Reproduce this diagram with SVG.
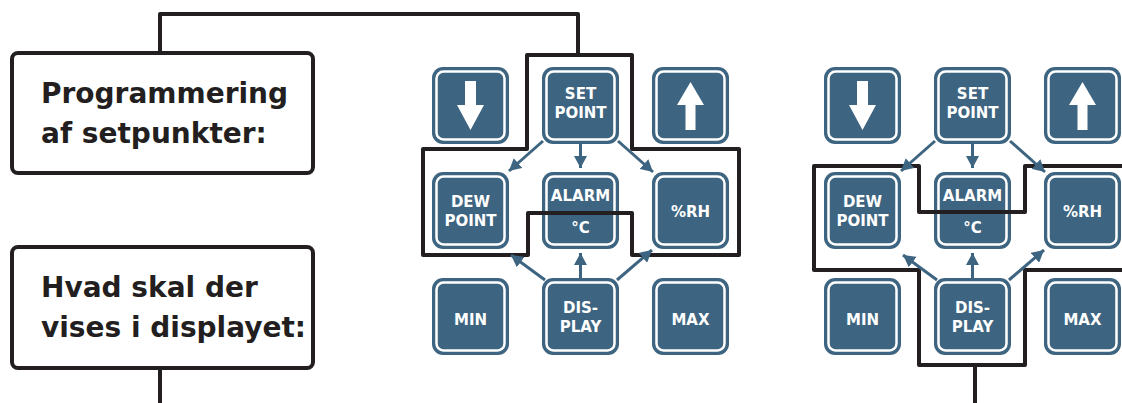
<svg xmlns="http://www.w3.org/2000/svg" xmlns:xlink="http://www.w3.org/1999/xlink" width="1122" height="403" viewBox="0 0 1122 403">
<style>
.box{fill:#fff;stroke:#231f20;stroke-width:4}
.lbl{font-family:"DejaVu Sans",Verdana,sans-serif;font-weight:bold;font-size:28px;fill:#231f20}
.bt{font-family:"DejaVu Sans",Verdana,sans-serif;font-weight:bold;font-size:15px;fill:#fff;text-anchor:middle}
.blk{fill:none;stroke:#231f20;stroke-width:4;stroke-linejoin:round}
.arr{stroke:#3d6480;stroke-width:3;fill:none;marker-end:url(#ah)}
.ic{fill:#fff}
</style>
<defs>
<g id="btn">
<rect x="0" y="0" width="77" height="77" rx="11" fill="#3d6480"/>
<rect x="4.5" y="4.5" width="68" height="68" rx="7" fill="#3d6480" stroke="#fff" stroke-width="2.5"/>
</g>
<marker id="ah" markerUnits="userSpaceOnUse" markerWidth="13" markerHeight="13" refX="12" refY="6.5" orient="auto">
<path d="M0,0 L12,6.5 L0,13 z" fill="#3d6480"/>
</marker>
</defs>
<rect width="1122" height="403" fill="#fff"/>

<g id="connectors">
<path class="blk" d="M160,53 V14 H578 V55"/>
<path class="blk" d="M160,368 V403"/>
<path class="blk" d="M975,365 V403"/>
</g>

<g id="box-programmering">
<rect class="box" x="12" y="53" width="301" height="120" rx="6"/>
<text class="lbl" x="41" y="103">Programmering</text>
<text class="lbl" x="41" y="143">af setpunkter:</text>
</g>
<g id="box-display">
<rect class="box" x="12" y="247" width="301" height="121" rx="6"/>
<text class="lbl" x="41" y="297">Hvad skal der</text>
<text class="lbl" x="41" y="337">vises i displayet:</text>
</g>

<g id="keypad1">
<g id="k1-down"><use xlink:href="#btn" x="432" y="67"/><polygon class="ic" points="465,81 476,81 476,105 484,105 470.5,130 457,105 465,105"/></g>
<g id="k1-setpoint"><use xlink:href="#btn" x="542" y="67"/><text class="bt" x="580.5" y="99">SET</text><text class="bt" x="580.5" y="118">POINT</text></g>
<g id="k1-up"><use xlink:href="#btn" x="652" y="67"/><polygon class="ic" points="685.5,130 695.5,130 695.5,105 704,105 690.5,82 677,105 685.5,105"/></g>
<g id="k1-dewpoint"><use xlink:href="#btn" x="432" y="172"/><text class="bt" x="470.5" y="207">DEW</text><text class="bt" x="470.5" y="226">POINT</text></g>
<g id="k1-alarm"><use xlink:href="#btn" x="542" y="172"/><text class="bt" x="580.5" y="201">ALARM</text><text class="bt" x="580.5" y="233">°C</text></g>
<g id="k1-rh"><use xlink:href="#btn" x="652" y="172"/><text class="bt" x="690.5" y="217">%RH</text></g>
<g id="k1-min"><use xlink:href="#btn" x="432" y="278"/><text class="bt" x="470.5" y="325">MIN</text></g>
<g id="k1-display"><use xlink:href="#btn" x="542" y="278"/><text class="bt" x="580.5" y="313">DIS-</text><text class="bt" x="580.5" y="332">PLAY</text></g>
<g id="k1-max"><use xlink:href="#btn" x="652" y="278"/><text class="bt" x="690.5" y="325">MAX</text></g>
</g>

<g id="keypad2">
<g id="k2-down"><use xlink:href="#btn" x="824" y="67"/><polygon class="ic" points="857,81 868,81 868,105 876,105 862.5,130 849,105 857,105"/></g>
<g id="k2-setpoint"><use xlink:href="#btn" x="934" y="67"/><text class="bt" x="972.5" y="99">SET</text><text class="bt" x="972.5" y="118">POINT</text></g>
<g id="k2-up"><use xlink:href="#btn" x="1044" y="67"/><polygon class="ic" points="1077.5,130 1087.5,130 1087.5,105 1096,105 1082.5,82 1069,105 1077.5,105"/></g>
<g id="k2-dewpoint"><use xlink:href="#btn" x="824" y="172"/><text class="bt" x="862.5" y="207">DEW</text><text class="bt" x="862.5" y="226">POINT</text></g>
<g id="k2-alarm"><use xlink:href="#btn" x="934" y="172"/><text class="bt" x="972.5" y="201">ALARM</text><text class="bt" x="972.5" y="233">°C</text></g>
<g id="k2-rh"><use xlink:href="#btn" x="1044" y="172"/><text class="bt" x="1082.5" y="217">%RH</text></g>
<g id="k2-min"><use xlink:href="#btn" x="824" y="278"/><text class="bt" x="862.5" y="325">MIN</text></g>
<g id="k2-display"><use xlink:href="#btn" x="934" y="278"/><text class="bt" x="972.5" y="313">DIS-</text><text class="bt" x="972.5" y="332">PLAY</text></g>
<g id="k2-max"><use xlink:href="#btn" x="1044" y="278"/><text class="bt" x="1082.5" y="325">MAX</text></g>
</g>

<g id="outlines">
<path class="blk" d="M527,55 H632 V149 H739 V255 H632 V213 H528 V255 H423 V149 H527 Z"/>
<path class="blk" d="M1124,166 H1025 V212 H919 V166 H814 V270 H919 V365 H1025 V270 H1124"/>
</g>

<g id="arrows">
<line class="arr" x1="543" y1="141" x2="509" y2="171"/>
<line class="arr" x1="580.5" y1="143" x2="580.5" y2="168"/>
<line class="arr" x1="618" y1="141" x2="653" y2="172"/>
<line class="arr" x1="545" y1="280" x2="511" y2="255"/>
<line class="arr" x1="580.5" y1="278" x2="580.5" y2="253"/>
<line class="arr" x1="617" y1="280" x2="652" y2="250"/>
<line class="arr" x1="935" y1="141" x2="901" y2="171"/>
<line class="arr" x1="972.5" y1="143" x2="972.5" y2="168"/>
<line class="arr" x1="1010" y1="141" x2="1045" y2="172"/>
<line class="arr" x1="937" y1="280" x2="903" y2="255"/>
<line class="arr" x1="972.5" y1="278" x2="972.5" y2="253"/>
<line class="arr" x1="1009" y1="280" x2="1044" y2="250"/>
</g>
</svg>
